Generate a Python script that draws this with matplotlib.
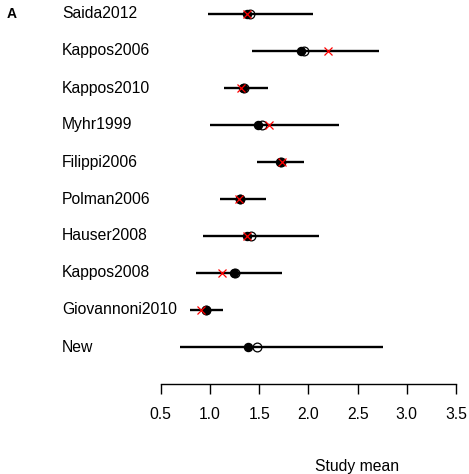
import matplotlib
matplotlib.use("Agg")
import matplotlib.pyplot as plt

plt.rcParams['font.family'] = ['Liberation Sans', 'DejaVu Sans']

studies = ["Saida2012", "Kappos2006", "Kappos2010", "Myhr1999", "Filippi2006",
           "Polman2006", "Hauser2008", "Kappos2008", "Giovannoni2010", "New"]
lower = [0.98, 1.43, 1.14, 1.00, 1.48, 1.10, 0.93, 0.86, 0.80, 0.70]
upper = [2.05, 2.72, 1.59, 2.31, 1.96, 1.57, 2.11, 1.73, 1.13, 2.76]
filled_mean = [1.38, 1.93, 1.34, 1.49, 1.71, 1.31, 1.38, 1.24, 0.96, 1.39]
open_mean = [1.41, 1.96, 1.35, 1.53, 1.72, 1.31, 1.42, 1.25, 0.96, 1.48]
cross_mean = [1.38, 2.20, 1.32, 1.60, 1.73, 1.30, 1.38, 1.12, 0.91, None]
xticks = [0.5, 1.0, 1.5, 2.0, 2.5, 3.0, 3.5]

W, H = 469, 474
fig = plt.figure(figsize=(W / 100, H / 100), dpi=100)
ax = fig.add_axes([160.7 / W, 1 - 384 / H, 295.3 / W, 384 / H])
ax.set_xlim(0.5, 3.5)
ax.set_ylim(0, 10 + 14 / 37)

n = len(studies)
for i, name in enumerate(studies):
    y = n - i
    ax.plot([lower[i], upper[i]], [y, y], color='black', lw=1.7,
            solid_capstyle='butt', clip_on=False, zorder=2)
    ax.plot(filled_mean[i], y, 'o', color='black', ms=5.8, clip_on=False, zorder=3)
    ax.plot(open_mean[i], y, 'o', mfc='none', mec='black', mew=0.9, ms=6.3,
            clip_on=False, zorder=4)
    if cross_mean[i] is not None:
        ax.plot(cross_mean[i], y, 'x', color='red', ms=6.3, mew=0.9,
                clip_on=False, zorder=5)
    fig.text(62 / W, 1 - (14 + 37 * i) / H, name, fontsize=11.3,
             ha='left', va='center')

fig.text(7 / W, 1 - 14 / H, "A", fontsize=10, fontweight='bold',
         ha='left', va='center')

for s in ['top', 'right', 'left']:
    ax.spines[s].set_visible(False)
ax.spines['bottom'].set_bounds(0.5, 3.5)
ax.spines['bottom'].set_linewidth(1.0)
ax.set_yticks([])
ax.set_xticks(xticks)
ax.set_xticklabels([f"{t:.1f}" for t in xticks])
ax.tick_params(axis='x', direction='out', length=7.5, width=1.0,
               labelsize=11.3, pad=9)
ax.patch.set_visible(False)

fig.text(357 / W, 1 - 467 / H, "Study mean", fontsize=11.3,
         ha='center', va='center')

fig.savefig("out.png", dpi=100)
